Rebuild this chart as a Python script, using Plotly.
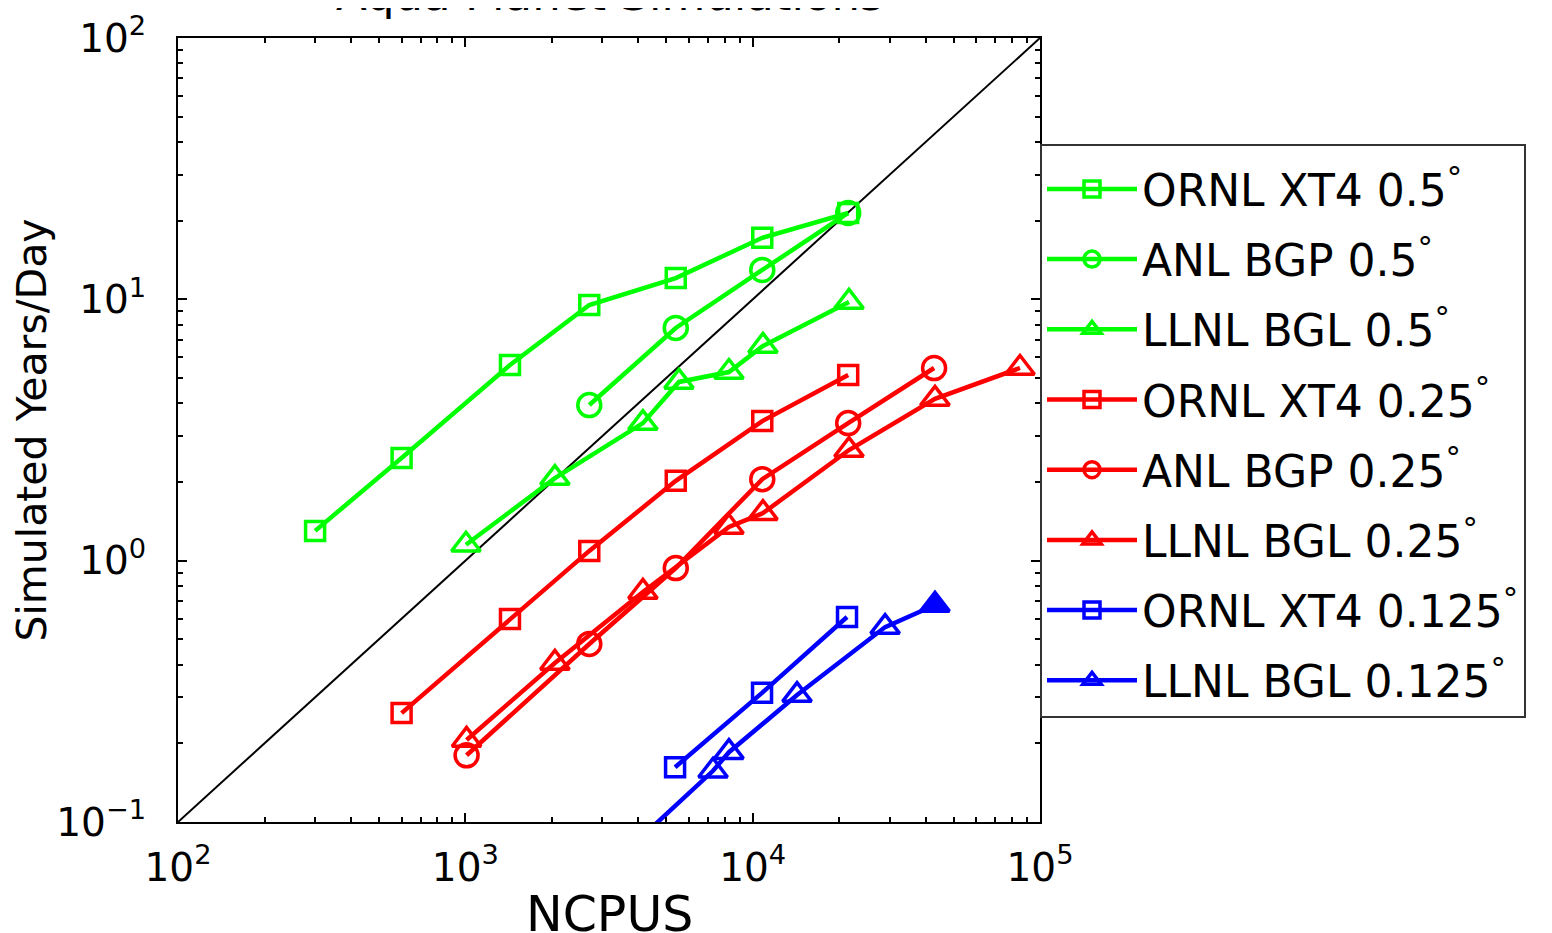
import plotly.graph_objects as go

# ---- data ----
ornl_xt4_05_x = [300, 600, 1430, 2700, 5400, 10800, 21500]
ornl_xt4_05_y = [1.30, 2.47, 5.61, 9.51, 12.06, 17.2, 21.4]

anl_bgp_05_x = [2700, 5400, 10800, 21500]
anl_bgp_05_y = [3.94, 7.77, 12.95, 21.4]

llnl_bgl_05_x = [1005, 2050, 4150, 5540, 8270, 10860, 21640]
llnl_bgl_05_y = [1.15, 2.07, 3.36, 4.83, 5.27, 6.63, 9.77]

ornl_xt4_025_x = [600, 1430, 2700, 5400, 10800, 21500]
ornl_xt4_025_y = [0.261, 0.598, 1.09, 2.02, 3.42, 5.13]

anl_bgp_025_x = [1010, 2700, 5400, 10800, 21500, 42800]
anl_bgp_025_y = [0.180, 0.48, 0.937, 2.05, 3.36, 5.46]

llnl_bgl_025_x = [1010, 2050, 4150, 8270, 10860, 21640, 43100, 85200]
llnl_bgl_025_y = [0.206, 0.406, 0.759, 1.345, 1.52, 2.65, 4.16, 5.46]

ornl_xt4_0125_x = [5370, 10780, 21300]
ornl_xt4_0125_y = [0.162, 0.312, 0.609]

llnl_bgl_0125_x = [3640, 7280, 8270, 14270, 28900, 43100]
llnl_bgl_0125_y = [0.0775, 0.157, 0.185, 0.306, 0.557, 0.677]

ideal_x = [100, 100000]
ideal_y = [0.1, 100]

series_names = [
    "ORNL XT4 0.5<sup>°</sup>", "ANL BGP 0.5<sup>°</sup>", "LLNL BGL 0.5<sup>°</sup>",
    "ORNL XT4 0.25<sup>°</sup>", "ANL BGP 0.25<sup>°</sup>", "LLNL BGL 0.25<sup>°</sup>",
    "ORNL XT4 0.125<sup>°</sup>", "LLNL BGL 0.125<sup>°</sup>",
]

x_tickvals = [100, 1000, 10000, 100000]
x_ticktext = ["10<sup>2</sup>", "10<sup>3</sup>", "10<sup>4</sup>", "10<sup>5</sup>"]
y_tickvals = [0.1, 1, 10, 100]
y_ticktext = ["10<sup>−1</sup>", "10<sup>0</sup>", "10<sup>1</sup>", "10<sup>2</sup>"]

GREEN, RED, BLUE = "#00FF00", "#FF0000", "#0000FF"
FONT = "DejaVu Sans, Liberation Sans, Arial, sans-serif"

fig = go.Figure()

fig.add_trace(go.Scatter(x=ideal_x, y=ideal_y, mode="lines",
                         line=dict(color="black", width=2), showlegend=False, hoverinfo="skip"))

specs = [
    (ornl_xt4_05_x, ornl_xt4_05_y, GREEN, "square-open", 19),
    (anl_bgp_05_x, anl_bgp_05_y, GREEN, "circle-open", 23),
    (llnl_bgl_05_x, llnl_bgl_05_y, GREEN, "triangle-up-open", 25),
    (ornl_xt4_025_x, ornl_xt4_025_y, RED, "square-open", 19),
    (anl_bgp_025_x, anl_bgp_025_y, RED, "circle-open", 23),
    (llnl_bgl_025_x, llnl_bgl_025_y, RED, "triangle-up-open", 25),
    (ornl_xt4_0125_x, ornl_xt4_0125_y, BLUE, "square-open", 19),
    (llnl_bgl_0125_x, llnl_bgl_0125_y, BLUE, "triangle-up-open", 25),
]

for i, (xs, ys, col, sym, sz) in enumerate(specs):
    symbols = [sym] * len(xs)
    if i == 7:
        symbols[-1] = "triangle-up"
    fig.add_trace(go.Scatter(
        x=xs, y=ys, mode="lines+markers", name=series_names[i],
        legendgroup="g%d" % i,
        line=dict(color=col, width=4.5),
        marker=dict(symbol=symbols, size=sz, color=col, line=dict(color=col, width=3.5)),
        cliponaxis=True,
    ))

minor_x = [m * 10 ** e for e in range(2, 5) for m in range(2, 10)]
minor_y = [m * 10 ** e for e in range(-1, 2) for m in range(2, 10)]

axis_common = dict(
    type="log", showgrid=False, zeroline=False, showline=True, linecolor="black",
    linewidth=2, mirror="ticks", ticks="inside", ticklen=9, tickwidth=1.5, tickcolor="black",
    tickmode="array", tickfont=dict(family=FONT, size=39, color="black"), automargin=False,
)

fig.update_xaxes(
    **axis_common, range=[2, 5], tickvals=x_tickvals, ticktext=x_ticktext,
    ticklabelstandoff=10,
    minor=dict(tickmode="array", tickvals=minor_x, ticks="inside", ticklen=5, tickcolor="black", showgrid=False),
)
fig.update_yaxes(
    **axis_common, range=[-1, 2], tickvals=y_tickvals, ticktext=y_ticktext,
    ticklabelstandoff=22,
    minor=dict(tickmode="array", tickvals=minor_y, ticks="inside", ticklen=5, tickcolor="black", showgrid=False),
    title=dict(text="Simulated Years/Day", font=dict(family=FONT, size=41, color="black"), standoff=6),
)

# x-axis title as an annotation so it may run off the bottom edge like the reference
fig.add_annotation(text="NCPUS", xref="paper", yref="paper",
                   x=0.5, y=-0.118, xanchor="center", yanchor="middle", showarrow=False,
                   font=dict(family=FONT, size=49, color="black"))

fig.add_annotation(text="Aqua Planet Simulations", xref="paper", yref="paper",
                   x=0.5, y=1.019, xanchor="center", yanchor="bottom", showarrow=False,
                   font=dict(family=FONT, size=45, color="black"))

fig.update_layout(
    width=1544, height=925,
    margin=dict(l=170, r=512, t=30, b=111),
    paper_bgcolor="white", plot_bgcolor="white",
    font=dict(family=FONT, color="black"),
    legend=dict(x=1.0, xanchor="left", y=0.8635 + 1 / 784, yanchor="top",
                font=dict(family=FONT, size=44, color="black"),
                title=dict(text=" ", font=dict(family=FONT, size=6)),
                bordercolor="#333333", borderwidth=2, bgcolor="white",
                tracegroupgap=10, itemwidth=90),
)

fig.write_html("out.html")
